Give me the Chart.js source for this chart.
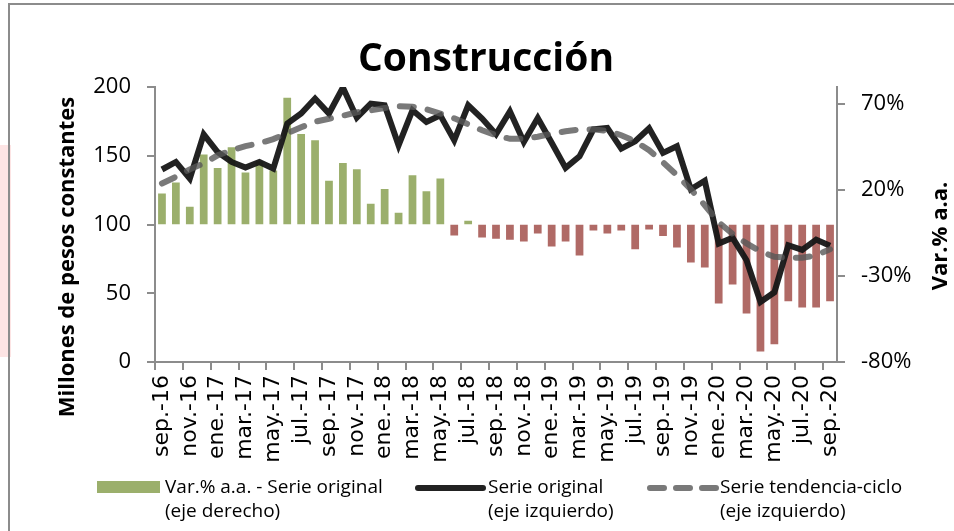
<!DOCTYPE html>
<html lang="es">
<head>
<meta charset="utf-8">
<title>Construcción</title>
<script src="https://cdn.jsdelivr.net/npm/chart.js@4.4.0/dist/chart.umd.min.js"></script>
<style>
  html, body { margin: 0; padding: 0; background: #fff; }
  #wrap { width: 954px; height: 531px; }
</style>
</head>
<body>
<div id="wrap"><canvas id="chart" width="954" height="531"></canvas></div>
<script>
// Monthly labels, sep-16 .. sep-20
const months = [
  'sep.-16', 'oct.-16', 'nov.-16', 'dic.-16',
  'ene.-17', 'feb.-17', 'mar.-17', 'abr.-17', 'may.-17', 'jun.-17', 'jul.-17', 'ago.-17', 'sep.-17', 'oct.-17', 'nov.-17', 'dic.-17',
  'ene.-18', 'feb.-18', 'mar.-18', 'abr.-18', 'may.-18', 'jun.-18', 'jul.-18', 'ago.-18', 'sep.-18', 'oct.-18', 'nov.-18', 'dic.-18',
  'ene.-19', 'feb.-19', 'mar.-19', 'abr.-19', 'may.-19', 'jun.-19', 'jul.-19', 'ago.-19', 'sep.-19', 'oct.-19', 'nov.-19', 'dic.-19',
  'ene.-20', 'feb.-20', 'mar.-20', 'abr.-20', 'may.-20', 'jun.-20', 'jul.-20', 'ago.-20', 'sep.-20',
];

// Var.% a.a. - serie original (right axis, %)
const varPct = [
  18.6, 25.0, 10.9, 41.3,
  33.5, 45.6, 30.8, 37.4, 32.0, 74.4, 53.3, 49.6, 26.0, 36.3, 32.8, 12.6,
  21.3, 7.4, 29.3, 20.0, 27.3, -7.0, 2.7, -8.1, -8.9, -9.5, -10.4, -5.8,
  -13.4, -10.4, -18.6, -4.1, -5.8, -4.1, -15.0, -3.5, -7.3, -13.9, -22.7, -25.6,
  -46.5, -35.5, -52.3, -74.4, -70.3, -45.3, -48.8, -48.8, -45.3,
];

// Serie original (left axis, millones de pesos constantes)
const serieOriginal = [
  140, 145.5, 133.4, 165.6,
  152.7, 145.5, 141.4, 145.5, 140.7, 173.4, 180.7, 191.6, 180.7, 199.6, 177.7, 187.9,
  186.7, 157.6, 183.1, 174.5, 179.4, 161.2, 186.7, 177.0, 165.6, 182.3, 160.0, 177.4,
  159.4, 141.2, 149.6, 169.2, 170.3, 155.2, 160.5, 170.0, 152.1, 156.9, 125.6, 131.8,
  86.1, 90.3, 74.0, 43.6, 50.7, 84.9, 81.6, 89.0, 84.5,
];

// Serie tendencia-ciclo (left axis)
const serieTendencia = [
  129.8, 134.7, 140.1, 144.5,
  150.3, 154.0, 157.0, 159.1, 162.1, 166.3, 170.7, 174.7, 176.9, 179.1, 181.6, 183.0,
  184.7, 186.0, 185.6, 183.8, 180.7, 177.2, 172.9, 168.5, 164.9, 162.3, 162.3, 163.8,
  166.1, 167.8, 169.1, 169.2, 168.1, 164.9, 160.5, 154.0, 145.2, 135.8, 125.6, 114.0,
  101.6, 93.2, 86.3, 80.5, 76.5, 75.8, 75.8, 77.6, 82.0,
];

const rightTicks = [-80, -30, 20, 70];

const GREEN = '#9BAF6C';
const RED = '#B06A66';
const BLACK = 'rgba(22, 22, 22, 0.95)';
const GREY = 'rgba(87, 87, 87, 0.8)';
const AXIS = '#8c8c8c';
const TXT = '#000';

const extras = {
  id: 'extras',
  beforeDraw(chart) {
    const c = chart.ctx;
    c.save();
    c.fillStyle = '#fff';
    c.fillRect(0, 0, chart.width, chart.height);
    c.fillStyle = '#fde4e4';
    c.fillRect(0, 145, 11, 212);
    c.strokeStyle = AXIS;
    c.lineWidth = 2;
    c.beginPath();
    c.moveTo(9, 531); c.lineTo(9, 4); c.lineTo(954, 4);
    c.stroke();
    c.restore();
  },
  afterDraw(chart) {
    const c = chart.ctx;
    c.save();
    c.fillStyle = TXT;

    // title
    c.font = "bold 39px 'Open Sans'";
    c.textAlign = 'center';
    c.textBaseline = 'alphabetic';
    c.fillText('Construcción', 486, 71);

    // axis titles
    c.font = "bold 22px 'Open Sans'";
    c.textBaseline = 'middle';
    c.save();
    c.translate(68, 257); c.rotate(-Math.PI / 2);
    c.fillText('Millones de pesos constantes', 0, 0);
    c.restore();
    c.save();
    c.translate(941, 236); c.rotate(-Math.PI / 2);
    c.fillText('Var.% a.a.', 0, 0);
    c.restore();

    // legend
    c.font = "19px 'Open Sans'";
    c.textAlign = 'left';
    const y1 = 488, y2 = 512;
    c.fillStyle = GREEN;
    c.fillRect(97, 481, 63, 12);
    c.fillStyle = TXT;
    c.fillText('Var.% a.a. - Serie original', 165, y1);
    c.fillText('(eje derecho)', 165, y2);

    c.lineCap = 'round';
    c.lineWidth = 6;
    c.strokeStyle = BLACK;
    c.beginPath(); c.moveTo(418, y1); c.lineTo(483, y1); c.stroke();
    c.fillText('Serie original', 488, y1);
    c.fillText('(eje izquierdo)', 488, y2);

    c.strokeStyle = GREY;
    c.setLineDash([14, 12]);
    c.beginPath(); c.moveTo(650, y1); c.lineTo(716, y1); c.stroke();
    c.setLineDash([]);
    c.fillText('Serie tendencia-ciclo', 720, y1);
    c.fillText('(eje izquierdo)', 720, y2);
    c.restore();
  },
};

new Chart(document.getElementById('chart'), {
  type: 'bar',
  data: {
    labels: months,
    datasets: [
      {
        type: 'line',
        label: 'Serie tendencia-ciclo',
        data: serieTendencia,
        yAxisID: 'y',
        borderColor: GREY,
        borderWidth: 6,
        borderDash: [14, 14],
        borderCapStyle: 'round',
        pointRadius: 0,
        tension: 0,
        order: 0,
      },
      {
        type: 'line',
        label: 'Serie original',
        data: serieOriginal,
        yAxisID: 'y',
        borderColor: BLACK,
        borderWidth: 6,
        pointRadius: 0,
        tension: 0,
        order: 1,
      },
      {
        type: 'bar',
        label: 'Var.% a.a. - Serie original',
        data: varPct,
        yAxisID: 'y1',
        backgroundColor: (ctx) => (ctx.raw >= 0 ? GREEN : RED),
        borderColor: 'rgba(255,255,255,0.45)',
        borderWidth: 1,
        categoryPercentage: 1,
        barPercentage: 0.7,
        order: 2,
      },
    ],
  },
  options: {
    responsive: false,
    animation: false,
    layout: { padding: { top: 87, left: 0, right: 0, bottom: 0 } },
    plugins: {
      legend: { display: false },
      title: { display: false },
      tooltip: { enabled: false },
    },
    scales: {
      x: {
        offset: true,
        grid: {
          offset: true,
          drawOnChartArea: false,
          tickLength: 8,
          lineWidth: 2,
          color: (ctx) => (ctx.index % 2 === 0 ? AXIS : 'rgba(0,0,0,0)'),
        },
        border: { color: AXIS, width: 2 },
        ticks: {
          autoSkip: false,
          maxRotation: 90,
          minRotation: 90,
          padding: 5,
          color: TXT,
          font: { family: "'DejaVu Sans'", size: 22 },
          callback: (v, i) => (i % 2 === 0 ? months[i] : ''),
        },
        afterFit: (s) => { s.height = 169; },
      },
      y: {
        position: 'left',
        min: 0,
        max: 200,
        grid: { drawOnChartArea: false, tickLength: 8, lineWidth: 2, color: AXIS },
        border: { color: AXIS, width: 2 },
        ticks: {
          stepSize: 50,
          padding: 16,
          color: TXT,
          font: { family: "'Open Sans'", size: 22 },
        },
        afterFit: (s) => { s.width = 155; },
      },
      y1: {
        position: 'right',
        min: -80,
        max: 80,
        grid: { drawOnChartArea: false, tickLength: 8, lineWidth: 2, color: AXIS },
        border: { color: AXIS, width: 2 },
        afterBuildTicks: (s) => { s.ticks = rightTicks.map((v) => ({ value: v })); },
        ticks: {
          padding: 16,
          color: TXT,
          font: { family: "'Open Sans'", size: 22 },
          callback: (v) => v + '%',
        },
        afterFit: (s) => { s.width = 117; },
      },
    },
  },
  plugins: [extras],
});
</script>
</body>
</html>
